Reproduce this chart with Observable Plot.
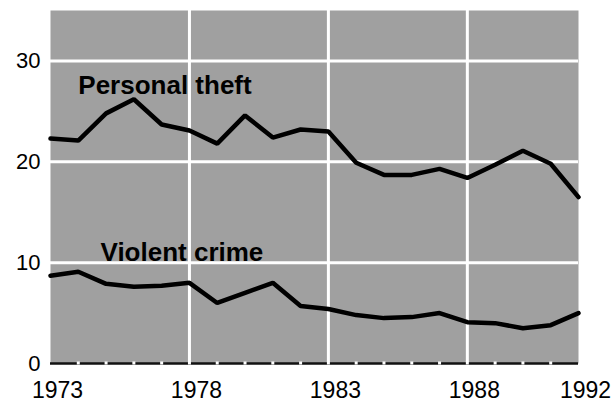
<!DOCTYPE html>
<html>
<head>
<meta charset="utf-8">
<script src="https://cdn.jsdelivr.net/npm/d3@7"></script>
<script src="https://cdn.jsdelivr.net/npm/@observablehq/plot@0.6"></script>
<style>
  html, body { margin: 0; padding: 0; background: #fff; }
  #chart { width: 613px; height: 403px; }
</style>
</head>
<body>
<div id="chart"></div>
<script>
const years = d3.range(1973, 1993);
const personalTheft = [22.3, 22.1, 24.8, 26.2, 23.7, 23.1, 21.8, 24.6, 22.4, 23.2, 23.0, 19.9, 18.7, 18.7, 19.3, 18.4, 19.7, 21.1, 19.8, 16.5];
const violentCrime = [8.7, 9.1, 7.9, 7.6, 7.7, 8.0, 6.0, 7.0, 8.0, 5.7, 5.4, 4.8, 4.5, 4.6, 5.0, 4.1, 4.0, 3.5, 3.8, 5.0];
const xTicks = [1973, 1978, 1983, 1988, 1992];
const yTicks = [0, 10, 20, 30];
const xGrid = [1978, 1983, 1988];
const yGrid = [10, 20, 30];
const labels = [
  {year: 1974.0, value: 26.7, text: "Personal theft"},
  {year: 1974.8, value: 10.15, text: "Violent crime"}
];

const theft = years.map((y, i) => ({year: y, value: personalTheft[i]}));
const violent = years.map((y, i) => ({year: y, value: violentCrime[i]}));
const innerYears = years.slice(1, -1);

const chart = Plot.plot({
  width: 613,
  height: 403,
  marginLeft: 50,
  marginRight: 35,
  marginTop: 10,
  marginBottom: 40,
  style: {fontFamily: "'Liberation Sans', Arial, sans-serif", background: "#fff", color: "#000"},
  x: {domain: [1973, 1992]},
  y: {domain: [0, 35]},
  marks: [
    Plot.frame({fill: "#a0a0a0", stroke: "none"}),
    Plot.ruleY(yGrid, {stroke: "#fff", strokeWidth: 3}),
    Plot.ruleX(xGrid, {stroke: "#fff", strokeWidth: 3}),
    Plot.ruleY([0], {stroke: "#111", strokeWidth: 2.5}),
    Plot.ruleX(innerYears, {y1: -0.15, y2: 0.15, stroke: "#fff", strokeWidth: 3}),
    Plot.line(theft, {x: "year", y: "value", stroke: "#000", strokeWidth: 4.5, strokeLinejoin: "miter"}),
    Plot.line(violent, {x: "year", y: "value", stroke: "#000", strokeWidth: 4.5, strokeLinejoin: "miter"}),
    Plot.text(labels, {x: "year", y: "value", text: "text", textAnchor: "start", lineAnchor: "bottom",
      fontSize: 26, fontWeight: "bold", fill: "#000"}),
    Plot.axisY({ticks: yTicks, tickSize: 0, tickPadding: 10, fontSize: 22, label: null, tickFormat: d3.format("d")}),
    Plot.axisX({ticks: xTicks, tickSize: 0, tickPadding: 18, fontSize: 23, dx: 7, label: null, tickFormat: d3.format("d")})
  ]
});
document.getElementById("chart").appendChild(chart);
</script>
</body>
</html>
